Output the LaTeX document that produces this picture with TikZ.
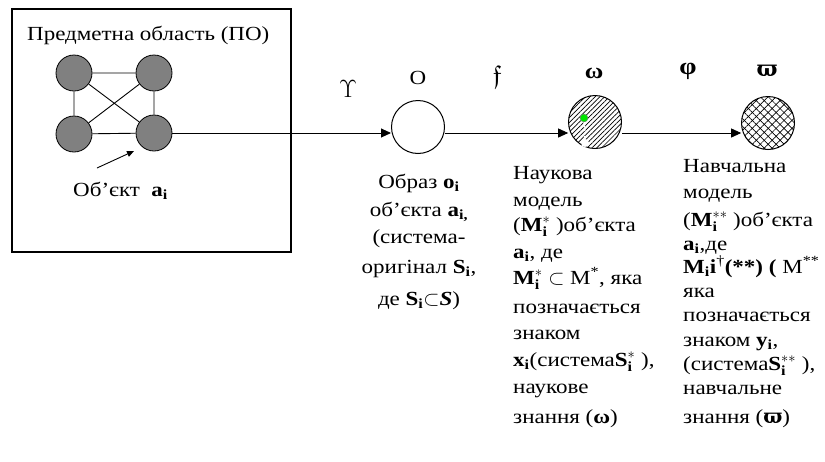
\documentclass[tikz,border=0pt]{standalone}
\usepackage{amsmath,amssymb}
\usepackage{fontspec}
\setmainfont[FakeStretch=1.15]{Liberation Serif}
\newfontfamily\grk{DejaVu Serif}
\usetikzlibrary{patterns.meta,arrows.meta}
\newcommand{\bsub}[2]{\textbf{#1}\textsubscript{\textbf{#2}}}
\newcommand{\bms}[2]{\textbf{#1}$^{#2}_{\mathbf{i}}$}
\newcommand{\vpi}{{\grk\bfseries ϖ}}
\begin{document}
\begin{tikzpicture}[x=1pt,y=-1pt,
  font=\fontsize{20}{22}\selectfont,
  vert/.style={circle,draw,line width=0.8pt,fill={rgb,255:red,128;green,128;blue,128},minimum size=36pt,inner sep=0pt},
  bigc/.style={circle,draw,line width=1pt,minimum size=53pt,inner sep=0pt},
  arr/.style={line width=0.9pt,-{Triangle[length=10pt,width=9pt]}},
  lbl/.style={inner sep=0pt,font=\fontsize{22}{24}\selectfont},
  ln/.style={inner sep=0pt,anchor=base west}]
\useasboundingbox (0,0) rectangle (825,461);

% subject domain frame
\node[draw,line width=1.6pt,minimum width=279pt,minimum height=243pt,anchor=north west,inner sep=0pt] (po) at (11,8) {};
\node[ln] (title) at (27,40) {Предметна область (ПО)};

% graph of objects
\node[vert] (v1) at (74,73) {};
\node[vert] (v2) at (154,73) {};
\node[vert] (v3) at (74,134) {};
\node[vert] (v4) at (154,133) {};
\draw[line width=0.9pt] (v1) -- (v2) (v1) -- (v3) (v2) -- (v4) (v3) -- (v4) (v1) -- (v4) (v2) -- (v3);

\node[ln] (obj) at (73,196) {Об’єкт \ \bsub{a}{i}};
\coordinate (ptail) at (97,168);
\coordinate (phead) at (134,151);
\draw[line width=0.9pt,-{Triangle[length=7pt,width=6pt]}] (ptail) -- (phead);

% chain of images and models
\node[bigc] (o) at (418,127) {};
\node[bigc,pattern={Lines[angle=45,distance=3.4pt,line width=0.7pt]}] (om) at (595,122) {};
\node[bigc,pattern={Lines[angle=45,distance=5.6pt,line width=0.7pt]},
  postaction={pattern={Lines[angle=-45,distance=5.6pt,line width=0.7pt]}}] (vp) at (768,123) {};
\node[circle,fill={rgb,255:red,0;green,230;blue,0},draw=black!50,minimum size=8pt,inner sep=0pt] (gd) at (584,118) {};
\node[circle,fill=white,minimum size=8pt,inner sep=0pt] (wd) at (585,143) {};
\draw[white,line width=1.6pt,dash pattern=on 2pt off 1.5pt] (gd) -- (wd);

\draw[arr] (v4.east) -- (v4.east -| o.west);
\draw[arr] (o.east |- v4.east) -- (v4.east -| om.west);
\draw[arr] (om.east |- v4.east) -- (v4.east -| vp.west);

% mapping labels
\node[lbl,font=\fontsize{28}{30}\selectfont] (lu) at (348,89) {$\Upsilon$};
\node[lbl,font=\fontsize{20}{22}\selectfont] (lo) at (418,78) {O};
\node[lbl,font=\fontsize{26}{28}\selectfont] (lf) at (497,77) {$\mathfrak{f}$};
\node[lbl] (lom) at (594,73) {\textbf{ω}};
\node[lbl,font=\fontsize{24}{26}\selectfont] (lphi) at (688,71) {\textbf{φ}};
\node[lbl] (lvp) at (767,71) {\vpi};

% caption under the image
\foreach \t/\yy [count=\k] in {
  {Образ \bsub{o}{i}}/188,
  {об’єкта \bsub{a}{i,}}/216,
  {(система-}/243,
  {оригінал \bsub{S}{i},}/273,
  {де \bsub{S}{i}$\subset$\textbf{\textit{S}})}/305}
  \node[inner sep=0pt,anchor=base] (img\k) at (419,\yy) {\t};

% scientific model
\foreach \t/\yy [count=\k] in {
  {Наукова}/179,
  {модель}/206,
  {(\bms{M}{*} )об’єкта}/231,
  {\bsub{a}{i}, де}/258,
  {\bms{M}{*} $\subset$ M\textsuperscript{*}, яка}/284,
  {позначається}/313,
  {знаком}/339,
  {\bsub{x}{i}(система\bms{S}{*} ),}/366,
  {наукове}/393,
  {знання (\textbf{ω})}/423}
  \node[ln] (sci\k) at (513,\yy) {\t};

% educational model
\foreach \t/\yy [count=\k] in {
  {Навчальна}/172,
  {модель}/198,
  {(\bms{M}{**} )об’єкта}/226,
  {\bsub{a}{i},де}/250,
  {\bsub{M}{i}\textbf{i}\textsuperscript{†}\textbf{(**)} \textbf{(} M\textsuperscript{**}}/273,
  {яка}/297,
  {позначається}/321,
  {знаком \bsub{y}{i},}/346,
  {(система\bms{S}{**} ),}/370,
  {навчальне}/394,
  {знання (\vpi)}/423}
  \node[ln] (edu\k) at (683,\yy) {\t};
\end{tikzpicture}
\end{document}
